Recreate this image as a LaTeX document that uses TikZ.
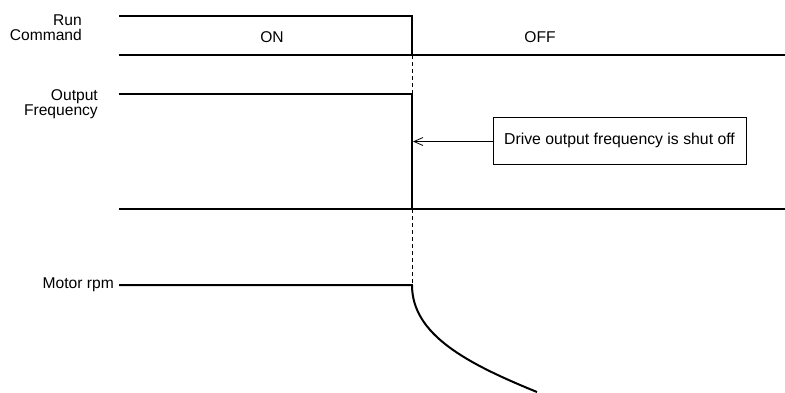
\documentclass[tikz,border=0pt]{standalone}
\usepackage{fontspec}
\setmainfont{Liberation Sans}
\usetikzlibrary{arrows.meta}
\begin{document}
\begin{tikzpicture}[x=1pt,y=-1pt,
  lbl/.style={inner sep=0pt,font=\fontsize{15.6}{14.8}\selectfont},
  sig/.style={line width=2pt,line join=miter},
  guide/.style={line width=0.9pt,dash pattern=on 4pt off 3pt},
  callout/.style={draw,line width=0.9pt,minimum width=253pt,minimum height=47pt,inner sep=0pt,font=\fontsize{15.8}{17}\selectfont},
  pointer/.style={line width=0.8pt,-{Straight Barb[length=9pt,width=8pt]}}]
\useasboundingbox (0,0) rectangle (785,392);
% labels
\node[lbl,align=right,anchor=east] (run) at (82,28) {Run\\Command};
\node[lbl,align=right,anchor=east] (out) at (98,104) {Output\\Frequency};
\node[lbl,anchor=east] (motor) at (114,285) {Motor rpm};
\node[lbl] (on) at (272,37) {ON};
\node[lbl] (off) at (540,37) {OFF};
% run command
\draw[sig] (119,16) -- (412,16) -- (412,55) -- (785,55);
\draw[sig] (119,55) -- (412,55);
% output frequency
\draw[sig] (119,94) -- (412,94) -- (412,209) -- (785,209);
\draw[sig] (119,209) -- (412,209);
% motor rpm
\draw[sig] (119,285) -- (412,285) .. controls (412,335) and (467.6,363.7) .. (537,392);
% guides
\draw[guide] (412,55) -- (412,94);
\draw[guide] (412,209) -- (412,285);
% callout
\node[callout] (box) at (619.5,140.5) {Drive output frequency is shut off};
\coordinate (hit) at (413,141.5);
\draw[pointer] (box.west |- hit) -- (hit);
\end{tikzpicture}
\end{document}
